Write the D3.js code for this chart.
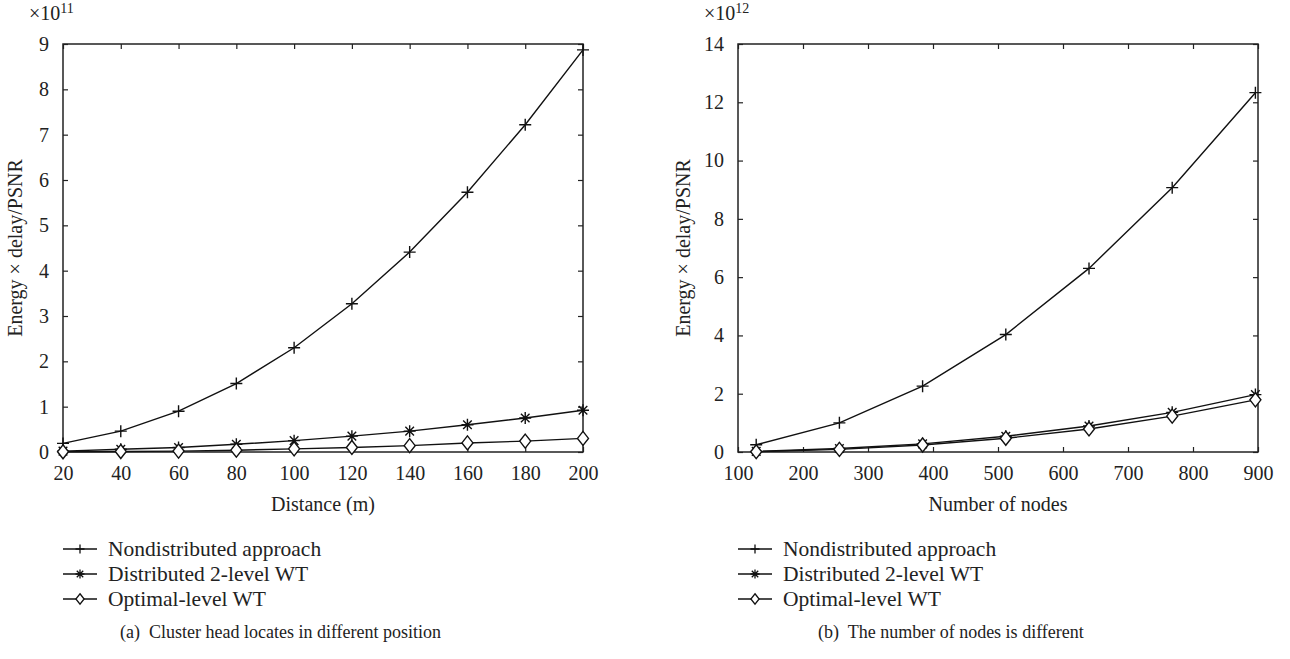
<!DOCTYPE html>
<html>
<head>
<meta charset="utf-8">
<script src="https://d3js.org/d3.v7.min.js"></script>
<style>
  body { margin: 0; background: #fff; }
</style>
</head>
<body>
<script>
var seriesNames = ["Nondistributed approach", "Distributed 2-level WT", "Optimal-level WT"];
var markers = ["plus", "star", "diamond"];

// panel (a)
var distance = [20, 40, 60, 80, 100, 120, 140, 160, 180, 200];
var aNondist = [0.19, 0.46, 0.90, 1.51, 2.30, 3.27, 4.41, 5.73, 7.22, 8.87];
var aDist2 = [0.02, 0.06, 0.10, 0.17, 0.25, 0.35, 0.46, 0.60, 0.75, 0.92];
var aOptimal = [0.005, 0.01, 0.02, 0.04, 0.07, 0.10, 0.14, 0.20, 0.24, 0.30];
var aXTicks = [20, 40, 60, 80, 100, 120, 140, 160, 180, 200];
var aYTicks = [0, 1, 2, 3, 4, 5, 6, 7, 8, 9];

// panel (b)
var nodes = [128, 256, 384, 512, 640, 768, 896];
var bNondist = [0.25, 1.00, 2.26, 4.03, 6.30, 9.07, 12.33];
var bDist2 = [0.02, 0.12, 0.28, 0.54, 0.89, 1.36, 1.97];
var bOptimal = [0.01, 0.09, 0.24, 0.47, 0.79, 1.23, 1.79];
var bXTicks = [100, 200, 300, 400, 500, 600, 700, 800, 900];
var bYTicks = [0, 2, 4, 6, 8, 10, 12, 14];

var W = 1290, H = 659;
var FONT = "'Liberation Serif', 'DejaVu Serif', 'Times New Roman', serif";
var svg = d3.select("body").append("svg").attr("width", W).attr("height", H)
  .attr("font-family", FONT);

function markerPath(type, x, y, s) {
  s = s || 1;
  if (type == "plus") {
    return "M" + (x - 6 * s) + "," + y + "H" + (x + 6 * s) + "M" + x + "," + (y - 6 * s) + "V" + (y + 6 * s);
  } else if (type == "star") {
    var a = 6 * s, b = 4.3 * s;
    var p = "M" + (x - a) + "," + y + "H" + (x + a) + "M" + x + "," + (y - a) + "V" + (y + a);
    p += "M" + (x - b) + "," + (y - b) + "L" + (x + b) + "," + (y + b);
    p += "M" + (x - b) + "," + (y + b) + "L" + (x + b) + "," + (y - b);
    return p;
  } else {
    return "M" + x + "," + (y - 7 * s) + "L" + (x + 5.5 * s) + "," + y + "L" + x + "," + (y + 7 * s) + "L" + (x - 5.5 * s) + "," + y + "Z";
  }
}

function panel(opt) {
  var g = svg.append("g");
  var x = d3.scaleLinear().domain(opt.xDomain).range([opt.left, opt.right]);
  var y = d3.scaleLinear().domain(opt.yDomain).range([opt.bottom, opt.top]);

  // axes, ticks inside on all 4 sides
  g.append("g").attr("transform", "translate(0," + opt.bottom + ")")
    .call(d3.axisBottom(x).tickValues(opt.xTicks).tickSize(-5).tickPadding(14))
    .call(function(a) { a.select(".domain").remove(); });
  g.append("g").attr("transform", "translate(0," + opt.top + ")")
    .call(d3.axisTop(x).tickValues(opt.xTicks).tickSize(-5).tickFormat(""))
    .call(function(a) { a.select(".domain").remove(); });
  g.append("g").attr("transform", "translate(" + opt.left + ",0)")
    .call(d3.axisLeft(y).tickValues(opt.yTicks).tickSize(-5).tickPadding(14))
    .call(function(a) { a.select(".domain").remove(); });
  g.append("g").attr("transform", "translate(" + opt.right + ",0)")
    .call(d3.axisRight(y).tickValues(opt.yTicks).tickSize(-5).tickFormat(""))
    .call(function(a) { a.select(".domain").remove(); });
  g.selectAll("g").attr("font-family", FONT).attr("font-size", 20);
  g.selectAll(".tick text").attr("fill", "#222");
  g.selectAll(".tick line").attr("stroke", "#222").attr("stroke-width", 1.2);

  g.append("rect").attr("x", opt.left).attr("y", opt.top)
    .attr("width", opt.right - opt.left).attr("height", opt.bottom - opt.top)
    .attr("fill", "none").attr("stroke", "#222").attr("stroke-width", 1.5);

  // series
  opt.series.forEach(function(vals, si) {
    var pts = opt.xs.map(function(d, i) { return [x(d), y(vals[i])]; });
    g.append("path").attr("d", d3.line()(pts))
      .attr("fill", "none").attr("stroke", "#111").attr("stroke-width", 1.4);
    g.selectAll(null).data(pts).enter().append("path")
      .attr("d", function(p) { return markerPath(markers[si], p[0], p[1]); })
      .attr("fill", markers[si] == "diamond" ? "#fff" : "none")
      .attr("stroke", "#111").attr("stroke-width", 1.4);
  });

  // labels
  g.append("text").attr("x", (opt.left + opt.right) / 2).attr("y", opt.bottom + 59)
    .attr("text-anchor", "middle").attr("font-size", 20).attr("fill", "#222").text(opt.xLabel);
  g.append("text").attr("transform", "translate(" + opt.yLabelX + "," + ((opt.top + opt.bottom) / 2) + ") rotate(-90)")
    .attr("text-anchor", "middle").attr("font-size", 20).attr("fill", "#222").text("Energy \u00d7 delay/PSNR");
  var ex = g.append("text").attr("x", opt.left - 34).attr("y", 20).attr("font-size", 20).attr("fill", "#222");
  ex.append("tspan").text("\u00d710");
  ex.append("tspan").attr("dy", -7).attr("font-size", 14).text(opt.exponent);

  // legend
  seriesNames.forEach(function(name, i) {
    var ly = opt.legendY + i * 25;
    g.append("line").attr("x1", opt.legendX).attr("x2", opt.legendX + 34)
      .attr("y1", ly).attr("y2", ly).attr("stroke", "#111").attr("stroke-width", 1.3);
    g.append("path").attr("d", markerPath(markers[i], opt.legendX + 17, ly, 0.75))
      .attr("fill", markers[i] == "diamond" ? "#fff" : "none")
      .attr("stroke", "#111").attr("stroke-width", 1.3);
    g.append("text").attr("x", opt.legendX + 45).attr("y", ly + 7)
      .attr("font-size", 21.5).attr("fill", "#222").text(name);
  });
  g.append("text").attr("x", opt.captionX).attr("y", 638).attr("font-size", 18)
    .attr("fill", "#222").attr("xml:space", "preserve").text(opt.caption);
}

panel({
  left: 63, right: 583, top: 44, bottom: 452,
  xDomain: [20, 200], yDomain: [0, 9],
  xTicks: aXTicks, yTicks: aYTicks,
  xs: distance, series: [aNondist, aDist2, aOptimal],
  xLabel: "Distance (m)", exponent: "11", yLabelX: 22,
  legendX: 63, legendY: 549, captionX: 120,
  caption: "(a)  Cluster head locates in different position"
});

panel({
  left: 738, right: 1258, top: 44, bottom: 452,
  xDomain: [100, 900], yDomain: [0, 14],
  xTicks: bXTicks, yTicks: bYTicks,
  xs: nodes, series: [bNondist, bDist2, bOptimal],
  xLabel: "Number of nodes", exponent: "12", yLabelX: 690,
  legendX: 738, legendY: 549, captionX: 818,
  caption: "(b)  The number of nodes is different"
});
</script>
</body>
</html>
